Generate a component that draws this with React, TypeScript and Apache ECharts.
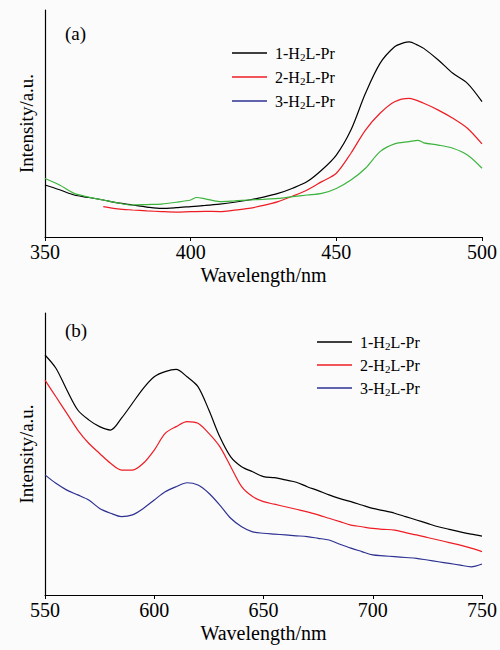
import React, { useEffect, useRef } from "react";
import * as echarts from "echarts";

// ---- Panel (a) data: wavelength (nm) vs intensity (a.u.) ----
const waveA1 = [350, 355, 360, 365, 370, 375, 380, 385, 390, 395, 400, 405, 410, 415, 420, 425, 430, 435, 440, 445, 450, 455, 460, 465, 470, 473, 475, 478, 480, 485, 490, 495, 500];
const seriesA1 = [22.9, 20.8, 18.5, 17.4, 16.3, 15.0, 14.1, 13.2, 12.6, 12.9, 13.4, 13.9, 14.5, 15.3, 16.3, 17.6, 19.2, 21.5, 24.4, 29.5, 36.1, 47.1, 63.3, 76.5, 83.8, 85.5, 86.0, 84.5, 83.1, 78.0, 72.1, 67.7, 59.6];
const waveA2 = [370, 375, 380, 385, 390, 395, 400, 405, 410, 415, 420, 425, 430, 435, 440, 445, 450, 455, 460, 465, 470, 475, 480, 485, 490, 495, 500];
const seriesA2 = [13.4, 12.4, 11.9, 11.5, 11.2, 11.0, 11.2, 11.3, 11.2, 11.8, 12.6, 13.9, 15.6, 18.0, 20.7, 24.4, 28.1, 36.9, 47.1, 54.5, 59.6, 61.1, 58.9, 55.9, 52.3, 47.9, 41.0];
const waveA3 = [350, 355, 360, 365, 370, 375, 380, 385, 390, 395, 400, 402, 405, 410, 415, 420, 425, 430, 435, 440, 445, 450, 455, 460, 465, 470, 475, 478, 480, 485, 490, 495, 500];
const seriesA3 = [25.8, 22.9, 19.2, 17.6, 16.3, 15.0, 14.1, 14.3, 14.5, 15.3, 16.3, 17.4, 16.8, 15.6, 15.9, 16.3, 16.6, 17.0, 17.8, 18.5, 19.2, 21.4, 25.1, 30.3, 37.6, 41.0, 42.0, 42.6, 41.5, 40.5, 39.1, 36.1, 30.3];

// ---- Panel (b) data ----
const waveB = [550, 555, 560, 565, 570, 575, 580, 585, 590, 595, 600, 605, 610, 615, 620, 625, 630, 635, 640, 645, 650, 655, 660, 665, 670, 675, 680, 685, 690, 695, 700, 705, 710, 715, 720, 725, 730, 735, 740, 745, 750];
const seriesB1 = [85.1, 80.4, 72.7, 65.6, 62.1, 59.7, 58.5, 62.7, 68.0, 73.3, 77.4, 79.2, 80.0, 77.4, 73.9, 65.6, 56.1, 49.0, 45.5, 43.7, 42.0, 41.6, 40.8, 40.0, 38.4, 37.0, 35.5, 34.2, 33.1, 31.9, 30.7, 29.9, 29.0, 27.8, 26.6, 25.4, 24.2, 23.3, 22.4, 21.6, 20.9];
const seriesB2 = [76.2, 70.3, 64.4, 58.5, 53.8, 50.2, 46.7, 44.3, 44.3, 46.7, 51.4, 57.3, 59.7, 61.5, 60.9, 57.3, 52.6, 45.5, 38.4, 34.9, 33.1, 32.2, 31.3, 30.4, 29.5, 28.4, 27.2, 26.0, 24.8, 24.2, 23.6, 23.3, 23.0, 22.1, 21.3, 20.4, 19.5, 18.6, 17.7, 16.6, 15.4];
const seriesB3 = [42.6, 39.6, 37.2, 35.5, 33.7, 30.7, 29.0, 27.8, 28.4, 30.7, 33.7, 36.6, 38.4, 39.8, 39.0, 36.1, 31.9, 27.2, 24.2, 22.4, 21.9, 21.6, 21.3, 21.0, 20.7, 20.1, 19.5, 18.0, 16.6, 15.4, 14.2, 13.9, 13.6, 13.3, 13.0, 12.4, 11.8, 11.2, 10.6, 10.0, 11.0];

const legendLabels = ["1-H{s|2}L-Pr", "2-H{s|2}L-Pr", "3-H{s|2}L-Pr"];
const xTicksA = [350, 400, 450, 500];
const xTicksB = [550, 600, 650, 700, 750];

const BLACK = "#000000";
const RED = "#ee1c24";
const BLUE = "#2e3192";
const GREEN = "#3cb43c";
const FONT = "Liberation Serif";

function zip(xs: number[], ys: number[]) {
  return xs.map((x, i) => [x, ys[i]]);
}

function legendGraphics(x0: number, x1: number, tx: number, ys: number[], colors: string[]) {
  const els: any[] = [];
  ys.forEach((y, i) => {
    els.push({
      type: "line",
      shape: { x1: x0, y1: y, x2: x1, y2: y },
      style: { stroke: colors[i], lineWidth: 1.3 },
    });
    els.push({
      type: "text",
      x: tx,
      y: y,
      style: {
        text: legendLabels[i],
        fill: "#000",
        fontFamily: FONT,
        fontSize: 16,
        verticalAlign: "middle",
        rich: {
          s: { fontSize: 11, fontFamily: FONT, fill: "#000", padding: [8, 0, 0, 0] },
        },
      },
    });
  });
  return els;
}

export default function App() {
  const ref = useRef<HTMLDivElement>(null);
  useEffect(() => {
    if (!ref.current) return;
    const chart = echarts.init(ref.current, null, { renderer: "svg" });
    const xAxisCommon = (min: number, max: number, ticks: number[]) => ({
      type: "value",
      min,
      max,
      interval: ticks[1] - ticks[0],
      name: "Wavelength/nm",
      nameLocation: "middle",
      nameGap: 28,
      nameTextStyle: { fontFamily: FONT, fontSize: 20, color: "#000" },
      axisLine: { lineStyle: { color: "#000", width: 1.2 } },
      axisTick: { show: true, length: 4, lineStyle: { color: "#000" } },
      axisLabel: { fontFamily: FONT, fontSize: 20, color: "#000", margin: 5 },
      splitLine: { show: false },
    });
    const yAxisCommon = (max: number) => ({
      type: "value",
      min: 0,
      max,
      name: "Intensity/a.u.",
      nameLocation: "middle",
      nameGap: 9,
      nameTextStyle: { fontFamily: FONT, fontSize: 19, color: "#000" },
      axisLine: { show: true, lineStyle: { color: "#000", width: 1.2 } },
      axisTick: { show: false },
      axisLabel: { show: false },
      splitLine: { show: false },
    });
    const lineSeries = (xi: number, data: number[][], color: string) => ({
      type: "line",
      xAxisIndex: xi,
      yAxisIndex: xi,
      data,
      smooth: 0.3,
      showSymbol: false,
      symbol: "none",
      lineStyle: { color, width: 1.2 },
      itemStyle: { color },
    });
    chart.setOption({
      animation: false,
      backgroundColor: "#fbfbfb",
      textStyle: { fontFamily: FONT },
      grid: [
        { left: 45, right: 17, top: 10, height: 227 },
        { left: 45, right: 17, top: 313, height: 282 },
      ],
      xAxis: [
        { ...xAxisCommon(350, 500, xTicksA), gridIndex: 0 },
        { ...xAxisCommon(550, 750, xTicksB), gridIndex: 1 },
      ],
      yAxis: [
        { ...yAxisCommon(100), gridIndex: 0 },
        { ...yAxisCommon(100), gridIndex: 1 },
      ],
      series: [
        lineSeries(0, zip(waveA1, seriesA1), BLACK),
        lineSeries(0, zip(waveA2, seriesA2), RED),
        lineSeries(0, zip(waveA3, seriesA3), GREEN),
        lineSeries(1, zip(waveB, seriesB1), BLACK),
        lineSeries(1, zip(waveB, seriesB2), RED),
        lineSeries(1, zip(waveB, seriesB3), BLUE),
      ],
      graphic: [
        { type: "text", x: 65, y: 33, style: { text: "(a)", fontFamily: FONT, fontSize: 19, fill: "#000", verticalAlign: "middle" } },
        { type: "text", x: 65, y: 330, style: { text: "(b)", fontFamily: FONT, fontSize: 19, fill: "#000", verticalAlign: "middle" } },
        ...legendGraphics(232, 267, 275, [53, 77, 101], [BLACK, RED, BLUE]),
        ...legendGraphics(317, 352, 360, [342, 365, 388], [BLACK, RED, BLUE]),
      ],
    });
    return () => chart.dispose();
  }, []);
  return (
    <div
      ref={ref}
      style={{ position: "absolute", left: 0, top: 0, width: 500, height: 650 }}
    />
  );
}
